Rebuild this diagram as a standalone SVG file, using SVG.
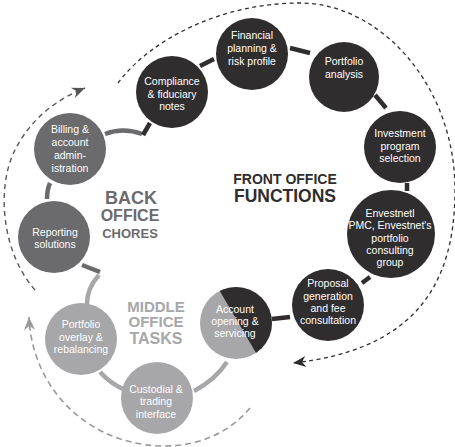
<svg xmlns="http://www.w3.org/2000/svg" width="455" height="447" viewBox="0 0 455 447">
<style>
.dark{fill:#302d2e}
.mid{fill:#6b6a6c}
.light{fill:#a7a7a9}
.nt{font-family:"Liberation Sans",Arial,Helvetica,sans-serif;font-size:10.5px;fill:#ffffff;text-anchor:middle}
.hd{font-family:"Liberation Sans",Arial,Helvetica,sans-serif;font-weight:bold;text-anchor:middle}
.cd{fill:none;stroke:#302d2e;stroke-width:4.5}
.cm{fill:none;stroke:#6b6a6c;stroke-width:4.5}
.cl{fill:none;stroke:#a7a7a9;stroke-width:4.5}
</style>
<defs>
<marker id="ahD" viewBox="-14 -7 15 14" refX="0" refY="0" markerWidth="15" markerHeight="14" markerUnits="userSpaceOnUse" orient="auto"><path d="M0,0 L-13,-5.5 L-9,0 L-13,5.5 Z" fill="#302d2e"/></marker>
<marker id="ahM" viewBox="-14 -7 15 14" refX="0" refY="0" markerWidth="15" markerHeight="14" markerUnits="userSpaceOnUse" orient="auto"><path d="M0,0 L-13,-5.5 L-9,0 L-13,5.5 Z" fill="#555557"/></marker>
<marker id="ahL" viewBox="-14 -7 15 14" refX="0" refY="0" markerWidth="15" markerHeight="14" markerUnits="userSpaceOnUse" orient="auto"><path d="M0,0 L-13,-5.5 L-9,0 L-13,5.5 Z" fill="#9a9a9c"/></marker>
<clipPath id="accClip"><circle cx="236" cy="323" r="36"/></clipPath>
</defs>

<g id="connectors">
<path d="M118,83 C150,40 220,3 300,3 C380,3 455,85 455,190 C455,290 410,350 293,363" fill="none" stroke="#302d2e" stroke-width="1.3" stroke-dasharray="4,3.5" marker-end="url(#ahD)"/>
<path d="M35,290 C0,250 -3,185 15,150 C30,120 55,100 85,88" fill="none" stroke="#555557" stroke-width="1.4" stroke-dasharray="5,4" marker-end="url(#ahM)"/>
<path d="M250,408 C230,432 200,446 165,446 C90,446 32,390 29,317" fill="none" stroke="#9a9a9c" stroke-width="1.6" stroke-dasharray="6,4" marker-end="url(#ahL)"/>
<path class="cm" d="M105,134 Q123,127 142,134"/>
<path class="cd" d="M143,135 L150,123"/>
<path class="cd" d="M200,66 L214,59"/>
<path class="cd" d="M290,48 L310,53"/>
<path class="cd" d="M375,95 L386,108"/>
<path class="cd" d="M407,183 L407,191"/>
<path class="cd" d="M362,283 L370,277"/>
<path class="cd" d="M272,319 L290,317"/>
<path class="cl" d="M227,362 Q215,380 194,391"/>
<path class="cl" d="M100,372 Q110,383 123,389"/>
<path class="cl" d="M99,275 Q87,288 87,304"/>
<path class="cm" d="M82,265 L100,272"/>
<path class="cm" d="M50,183 Q47,190 47,199"/>
</g>

<g id="node-compliance">
<circle class="dark" cx="172" cy="92" r="36"/>
<text class="nt" x="172" y="85">Compliance</text>
<text class="nt" x="172" y="97.5">&amp; fiduciary</text>
<text class="nt" x="172" y="110">notes</text>
</g>
<g id="node-financial">
<circle class="dark" cx="252" cy="54" r="36"/>
<text class="nt" x="252" y="39">Financial</text>
<text class="nt" x="252" y="52">planning &amp;</text>
<text class="nt" x="252" y="65">risk profile</text>
</g>
<g id="node-portfolio-analysis">
<circle class="dark" cx="344" cy="77" r="35"/>
<text class="nt" x="344" y="65">Portfolio</text>
<text class="nt" x="344" y="77.5">analysis</text>
</g>
<g id="node-investment">
<circle class="dark" cx="400" cy="147" r="36"/>
<text class="nt" x="400" y="137">Investment</text>
<text class="nt" x="400" y="149.5">program</text>
<text class="nt" x="400" y="162">selection</text>
</g>
<g id="node-envestnet">
<circle class="dark" cx="391" cy="234" r="44"/>
<text class="nt" x="390" y="217">Envestnetl</text>
<text class="nt" x="390" y="229">PMC, Envestnet's</text>
<text class="nt" x="390" y="241.5">portfolio</text>
<text class="nt" x="390" y="254">consulting</text>
<text class="nt" x="390" y="266">group</text>
</g>
<g id="node-proposal">
<circle class="dark" cx="328" cy="305" r="36"/>
<text class="nt" x="328" y="287">Proposal</text>
<text class="nt" x="328" y="299.5">generation</text>
<text class="nt" x="328" y="312">and fee</text>
<text class="nt" x="328" y="324">consultation</text>
</g>
<g id="node-account">
<circle class="light" cx="236" cy="323" r="36"/>
<polygon class="dark" clip-path="url(#accClip)" points="211,276 290,276 290,370 266,370"/>
<text class="nt" x="235" y="313">Account</text>
<text class="nt" x="235" y="325">opening &amp;</text>
<text class="nt" x="235" y="337">servicing</text>
</g>
<g id="node-custodial">
<circle class="light" cx="157" cy="398" r="36"/>
<text class="nt" x="156" y="392.5">Custodial &amp;</text>
<text class="nt" x="156" y="405">trading</text>
<text class="nt" x="156" y="417.5">interface</text>
</g>
<g id="node-overlay">
<circle class="light" cx="81" cy="339" r="36"/>
<text class="nt" x="81" y="328">Portfolio</text>
<text class="nt" x="81" y="340.5">overlay &amp;</text>
<text class="nt" x="81" y="353">rebalancing</text>
</g>
<g id="node-reporting">
<circle class="mid" cx="54" cy="237" r="36"/>
<text class="nt" x="55" y="236">Reporting</text>
<text class="nt" x="55" y="248">solutions</text>
</g>
<g id="node-billing">
<circle class="mid" cx="70" cy="149" r="36"/>
<text class="nt" x="70" y="133">Billing &amp;</text>
<text class="nt" x="70" y="146">account</text>
<text class="nt" x="70" y="159">admin-</text>
<text class="nt" x="70" y="172">istration</text>
</g>

<g id="label-back">
<text class="hd" x="131" y="204" font-size="18" fill="#6b6a6c">BACK</text>
<text class="hd" x="130" y="221" font-size="16" fill="#6b6a6c">OFFICE</text>
<text class="hd" x="130" y="237.5" font-size="13" fill="#6b6a6c">CHORES</text>
</g>
<g id="label-front">
<text class="hd" x="285" y="184" font-size="14" fill="#302d2e">FRONT OFFICE</text>
<text class="hd" x="285" y="202" font-size="17.5" fill="#302d2e">FUNCTIONS</text>
</g>
<g id="label-middle">
<text class="hd" x="156" y="311.5" font-size="15" fill="#a7a7a9">MIDDLE</text>
<text class="hd" x="156" y="327" font-size="15" fill="#a7a7a9">OFFICE</text>
<text class="hd" x="156" y="343.5" font-size="16" fill="#a7a7a9">TASKS</text>
</g>
</svg>
